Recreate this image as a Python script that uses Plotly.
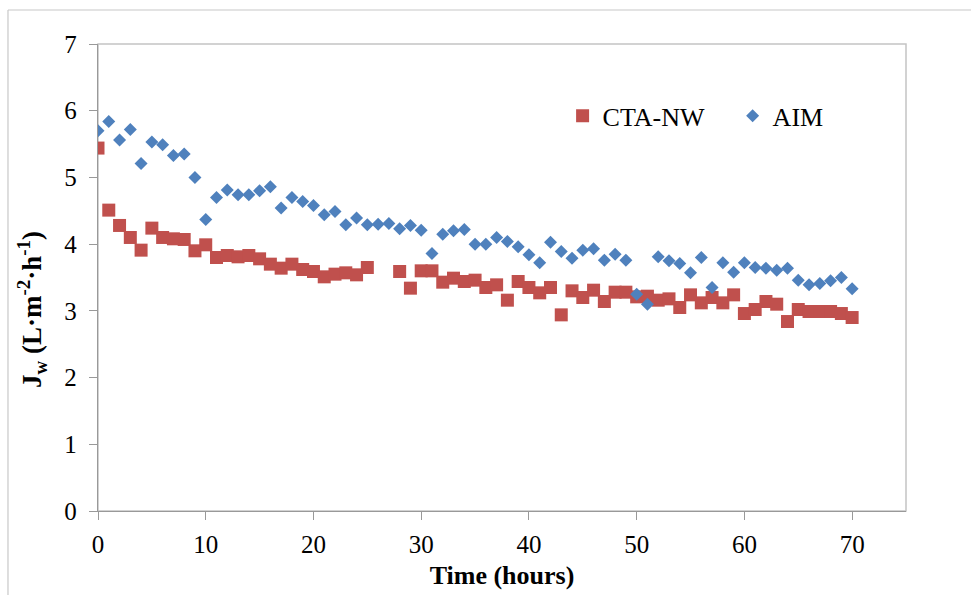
import plotly.graph_objects as go

hours = list(range(0, 71))

cta_nw = [5.44, 4.51, 4.28, 4.10, 3.91, 4.24, 4.10, 4.08, 4.07, 3.90,
          3.99, 3.80, 3.83, 3.81, 3.83, 3.78, 3.70, 3.64, 3.70, 3.62,
          3.59, 3.51, 3.55, 3.57, 3.54, 3.65, None, None, 3.59, 3.34,
          3.60, 3.60, 3.43, 3.49, 3.44, 3.46, 3.35, 3.39, 3.16, 3.44,
          3.35, 3.27, 3.35, 2.94, 3.30, 3.20, 3.31, 3.14, 3.28, 3.28,
          3.21, 3.22, 3.16, 3.18, 3.05, 3.24, 3.12, 3.20, 3.12, 3.24,
          2.96, 3.02, 3.14, 3.10, 2.84, 3.02, 2.99, 2.99, 2.99, 2.96,
          2.90]

aim = [5.70, 5.84, 5.56, 5.72, 5.21, 5.53, 5.49, 5.33, 5.35, 5.00,
       4.37, 4.70, 4.81, 4.74, 4.74, 4.80, 4.86, 4.54, 4.70, 4.64,
       4.58, 4.44, 4.49, 4.29, 4.39, 4.29, 4.30, 4.31, 4.23, 4.28,
       4.21, 3.86, 4.15, 4.20, 4.22, 4.00, 4.00, 4.10, 4.04, 3.96,
       3.84, 3.72, 4.03, 3.89, 3.79, 3.91, 3.93, 3.76, 3.85, 3.76,
       3.25, 3.10, 3.81, 3.75, 3.71, 3.57, 3.80, 3.35, 3.72, 3.58,
       3.72, 3.65, 3.64, 3.61, 3.64, 3.46, 3.39, 3.41, 3.45, 3.50,
       3.33]

x_ticks = [0, 10, 20, 30, 40, 50, 60, 70]
y_ticks = [0, 1, 2, 3, 4, 5, 6, 7]

RED = "#C0504D"
BLUE = "#4F81BD"
FONT = "Liberation Serif"

fig = go.Figure()
fig.add_trace(go.Scatter(
    x=hours, y=cta_nw, mode="markers", name="CTA-NW",
    marker=dict(symbol="square", size=13, color=RED, line=dict(width=0)),
))
fig.add_trace(go.Scatter(
    x=hours, y=aim, mode="markers", name="AIM",
    marker=dict(symbol="diamond", size=10, color=BLUE, line=dict(width=0)),
))

axis_common = dict(
    showgrid=False, zeroline=False, showline=True, linecolor="#999999",
    linewidth=1.3, ticks="outside", ticklen=8, tickcolor="#999999",
    tickwidth=1.3, tickfont=dict(family=FONT, size=25, color="#000000"),
)

fig.update_layout(
    width=971, height=595,
    margin=dict(l=98, r=65, t=44, b=84),
    paper_bgcolor="white", plot_bgcolor="white",
    showlegend=True,
    legend=dict(
        orientation="h", x=0.575, y=0.846, xanchor="left", yanchor="middle",
        font=dict(family=FONT, size=26, color="#000000"),
        bgcolor="rgba(0,0,0,0)", itemwidth=30,
        entrywidth=125, entrywidthmode="pixels",
    ),
    xaxis=dict(
        range=[0, 75], tickvals=x_ticks, ticklabelstandoff=3,
        title=dict(text="<b>Time (hours)</b>", standoff=8,
                   font=dict(family=FONT, size=26, color="#000000")),
        **axis_common,
    ),
    yaxis=dict(
        range=[0, 7], tickvals=y_ticks, ticklabelstandoff=7,
        **axis_common,
    ),
    annotations=[
        dict(text="<b>J<sub>w</sub> (L·m<sup>-2</sup>·h<sup>-1</sup>)</b>",
             xref="paper", yref="paper", x=-0.0817, y=0.4325,
             xanchor="center", yanchor="middle", textangle=-90,
             showarrow=False,
             font=dict(family=FONT, size=27, color="#000000")),
    ],
    shapes=[
        dict(type="rect", xref="paper", yref="paper", x0=0, y0=0, x1=1, y1=1,
             line=dict(color="#C4C4C4", width=1.5), layer="below"),
        dict(type="line", xref="paper", yref="paper", x0=-0.1114, x1=-0.1114,
             y0=-0.2, y1=1.0728, line=dict(color="#C8C8C8", width=1.2)),
        dict(type="line", xref="paper", yref="paper", x0=-0.1114, x1=1.09,
             y0=1.0728, y1=1.0728, line=dict(color="#C8C8C8", width=1.2)),
    ],
)

fig.write_html("out.html")
